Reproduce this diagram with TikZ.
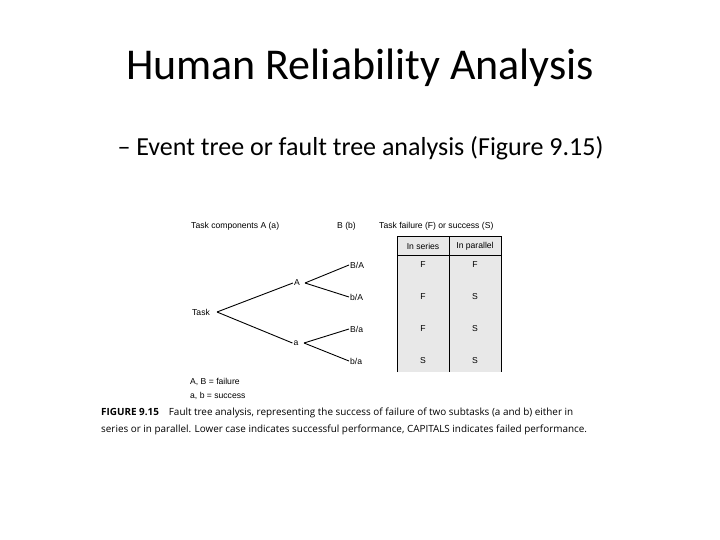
\documentclass[tikz,border=0pt]{standalone}
\usepackage{fontspec}
\setmainfont{Carlito}
\newfontfamily\figfont{Liberation Sans}
\newfontfamily\capfont{Open Sans}
\begin{document}
\begin{tikzpicture}[x=1pt,y=-1pt,
  lbl/.style={font=\figfont\fontsize{8.6}{10}\selectfont, inner sep=1pt},
  cell/.style={font=\figfont\fontsize{8.6}{10}\selectfont},
  br/.style={line width=0.9pt}]
\useasboundingbox (0,0) rectangle (720,540);
\node[font=\fontsize{44}{50}\selectfont] (title) at (360,68) {Human Reliability Analysis};
\node[font=\fontsize{26}{30}\selectfont, anchor=west] (sub) at (114,148) {– Event tree or fault tree analysis (Figure 9.15)};
% headers
\node[lbl,anchor=west] (h1) at (190,226) {Task components A (a)};
\node[lbl,anchor=west] (h2) at (336,226) {B (b)};
\node[lbl,anchor=west] (h3) at (378,226) {Task failure (F) or success (S)};
% table
\fill[gray!18] (397,236) rectangle (501,372);
\draw[line width=0.5pt] (397,372) -- (397,236) -- (501,236) -- (501,372);
\draw[line width=0.5pt] (397,255) -- (501,255);
\draw[line width=0.5pt] (449,236) -- (449,372);
\node[cell] (c1) at (423,246) {In series};
\node[cell] (c2) at (475,246) {In parallel};
\foreach \y/\s/\p in {265/F/F,297/F/S,329/F/S,361/S/S}{
  \node[cell] at (423,\y) {\s};
  \node[cell] at (475,\y) {\p};
}
% tree
\node[lbl] (task) at (201,312) {Task};
\node[lbl] (A) at (297,283) {A};
\node[lbl] (a) at (296,343) {a};
\node[lbl,anchor=west] (BA) at (349,265) {B/A};
\node[lbl,anchor=west] (bA) at (349,297) {b/A};
\node[lbl,anchor=west] (Ba) at (349,329) {B/a};
\node[lbl,anchor=west] (ba) at (349,361) {b/a};
\coordinate (t0) at (217,312);
\coordinate (A0) at (305,283);
\coordinate (a0) at (304,343);
\draw[br] (t0) -- (A.west);
\draw[br] (t0) -- (a.west);
\draw[br] (A0) -- (BA.west);
\draw[br] (A0) -- (bA.west);
\draw[br] (a0) -- (Ba.west);
\draw[br] (a0) -- (ba.west);
% legend
\node[lbl,anchor=west] (l1) at (189,382) {A, B = failure};
\node[lbl,anchor=west] (l2) at (189,396) {a, b = success};
% caption
\node[anchor=north west, font=\capfont\fontsize{9.9}{17}\selectfont, inner sep=0pt, align=left] (cap) at (101,408)
{\textbf{FIGURE 9.15}\quad Fault tree analysis, representing the success of failure of two subtasks (a and b) either in\\ series or in parallel. Lower case indicates successful performance, CAPITALS indicates failed performance.};
\end{tikzpicture}
\end{document}
